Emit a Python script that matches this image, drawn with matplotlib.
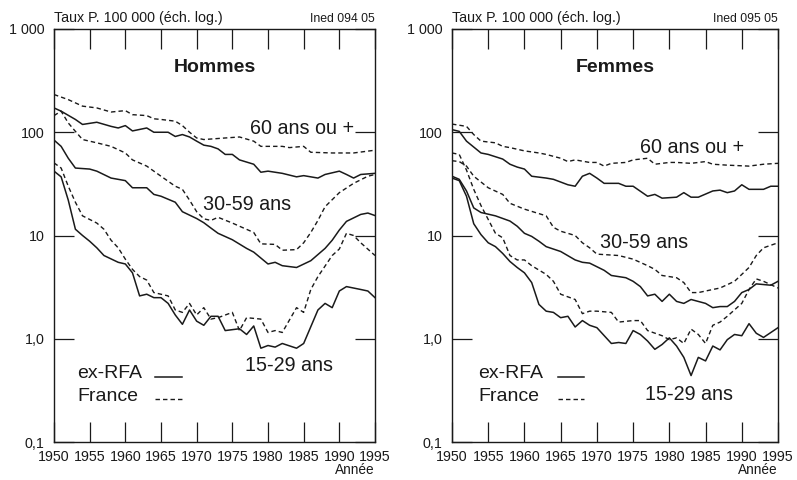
import matplotlib
matplotlib.use("Agg")
import matplotlib.pyplot as plt
from matplotlib.ticker import FixedLocator, NullLocator

plt.rcParams['font.family'] = ['Liberation Sans', 'DejaVu Sans']

# ---- Hommes ----
h60_fr_years = [1950, 1952, 1954, 1956, 1958, 1960, 1961, 1963, 1964, 1965, 1967, 1968, 1969, 1970,
                1971, 1974, 1976, 1978, 1979, 1982, 1983, 1985, 1986, 1989, 1992, 1995]
h60_fr = [232, 207, 179, 172, 157, 162, 148, 145, 135, 133, 128, 116, 100, 88,
          85, 88, 90, 82, 73, 73, 71, 73, 64, 63, 63, 67]

h60_de_years = [1950, 1951, 1953, 1954, 1956, 1958, 1959, 1960, 1961, 1963, 1964, 1966, 1967, 1968,
                1969, 1970, 1971, 1972, 1973, 1974, 1975, 1976, 1978, 1979, 1980, 1982, 1984, 1985,
                1987, 1988, 1990, 1991, 1992, 1993, 1995]
h60_de = [172, 160, 133, 119, 125, 114, 110, 116, 103, 110, 100, 100, 91, 95,
          90, 82, 75, 73, 69, 61, 61, 54, 49, 41, 42, 40, 37, 38,
          36, 39, 42, 39, 36, 39, 40]

h30_fr_years = [1950, 1951, 1952, 1953, 1954, 1956, 1958, 1960, 1961, 1963, 1965, 1967, 1968, 1969,
                1970, 1971, 1972, 1973, 1975, 1976, 1978, 1979, 1981, 1982, 1984, 1985, 1986, 1987,
                1988, 1990, 1992, 1994, 1995]
h30_fr = [145, 160, 123, 102, 85, 79, 73, 63, 54, 47, 37.5, 30, 28, 22,
          17, 14.5, 14, 15, 13.2, 12.3, 10.7, 8.3, 8.2, 7.2, 7.3, 8.5, 10.7, 14,
          19, 26, 32, 37.5, 39]

h30_de_years = [1950, 1951, 1952, 1953, 1955, 1956, 1958, 1960, 1961, 1963, 1964, 1965, 1967, 1968,
                1970, 1971, 1972, 1973, 1975, 1977, 1978, 1980, 1981, 1982, 1984, 1986, 1988, 1989,
                1990, 1991, 1993, 1994, 1995]
h30_de = [84, 73, 56, 45, 44, 42, 36, 34, 29, 29, 25, 24, 21, 17,
          14.6, 13.3, 11.8, 10.5, 9.1, 7.5, 6.9, 5.3, 5.5, 5.1, 4.9, 5.7, 7.5, 9,
          11.3, 13.7, 16, 16.5, 15.6]

h15_fr_years = [1950, 1951, 1952, 1953, 1954, 1956, 1957, 1958, 1959, 1960, 1961, 1962, 1963, 1964,
                1966, 1967, 1968, 1969, 1970, 1971, 1972, 1973, 1975, 1976, 1977, 1979, 1980, 1981,
                1982, 1984, 1985, 1986, 1987, 1989, 1990, 1991, 1992, 1993, 1995]
h15_fr = [50.5, 45, 30, 21, 15.5, 13.2, 11.5, 9.0, 7.6, 5.9, 4.7, 4.0, 3.7, 2.8,
          2.6, 1.9, 1.8, 2.2, 1.7, 2.0, 1.55, 1.6, 1.8, 1.2, 1.6, 1.55, 1.15, 1.2,
          1.15, 2.0, 1.8, 3.0, 4.0, 6.4, 7.4, 10.5, 10, 8.5, 6.4]

h15_de_years = [1950, 1951, 1952, 1953, 1954, 1955, 1956, 1957, 1959, 1960, 1961, 1962, 1963, 1964,
                1965, 1966, 1967, 1968, 1969, 1970, 1971, 1972, 1973, 1974, 1976, 1977, 1978, 1979,
                1980, 1981, 1982, 1984, 1985, 1987, 1988, 1989, 1990, 1991, 1993, 1994, 1995]
h15_de = [42, 37, 22, 11.5, 10, 8.8, 7.6, 6.4, 5.5, 5.3, 4.35, 2.6, 2.7, 2.5,
          2.5, 2.2, 1.7, 1.38, 1.9, 1.48, 1.35, 1.65, 1.65, 1.2, 1.25, 1.1, 1.33, 0.81,
          0.86, 0.83, 0.9, 0.81, 0.9, 1.9, 2.2, 2.0, 2.9, 3.2, 3.0, 2.9, 2.5]

# ---- Femmes ----
f60_fr_years = [1950, 1952, 1953, 1954, 1956, 1957, 1958, 1960, 1962, 1963, 1965, 1966, 1967, 1969,
                1970, 1971, 1972, 1974, 1975, 1977, 1978, 1980, 1981, 1983, 1985, 1986, 1988, 1991,
                1993, 1995]
f60_fr = [120, 114, 95, 82, 79, 73, 71, 66, 63, 61, 56, 52, 54, 51,
          51, 47, 50, 51, 54, 56, 49, 51, 51, 50, 52, 49, 48, 47,
          49, 50]

f60_de_years = [1950, 1951, 1952, 1954, 1955, 1957, 1958, 1959, 1960, 1961, 1963, 1964, 1966, 1967,
                1968, 1969, 1970, 1971, 1973, 1974, 1975, 1977, 1978, 1979, 1981, 1982, 1983, 1984,
                1986, 1987, 1988, 1989, 1990, 1991, 1993, 1994, 1995]
f60_de = [106, 102, 82, 63, 61, 55, 49, 46, 44, 37.5, 36, 35, 31, 30,
          37.5, 40, 36, 32, 32, 30, 30, 24, 25, 23, 23.5, 26, 23.5, 23.5,
          27, 27.5, 26, 27, 31, 28, 28, 30, 30]

f30_fr_years = [1950, 1951, 1952, 1953, 1955, 1957, 1958, 1960, 1963, 1964, 1965, 1967, 1968, 1969,
                1970, 1973, 1975, 1977, 1978, 1979, 1981, 1982, 1983, 1984, 1986, 1987, 1989, 1991,
                1992, 1993, 1995]
f30_fr = [53, 52, 47, 37.5, 29, 25, 20.5, 18, 15.5, 12, 11, 10, 8.5, 7.6,
          6.6, 6.4, 5.9, 5.1, 4.7, 4.1, 3.9, 3.5, 2.8, 2.8, 3.0, 3.1, 3.6, 4.9,
          6.4, 7.6, 8.5]

f30_de_years = [1950, 1951, 1952, 1953, 1954, 1956, 1958, 1959, 1960, 1961, 1962, 1963, 1965, 1967,
                1968, 1969, 1971, 1972, 1974, 1975, 1976, 1977, 1978, 1979, 1980, 1981, 1982, 1983,
                1985, 1986, 1987, 1988, 1989, 1990, 1991, 1992, 1994, 1995]
f30_de = [37.5, 35, 27, 18.5, 16.7, 15.5, 13.8, 12.3, 10.5, 9.8, 8.8, 7.8, 7.0, 5.8,
          5.5, 5.4, 4.6, 4.1, 3.9, 3.6, 3.2, 2.6, 2.7, 2.3, 2.7, 2.3, 2.2, 2.4,
          2.2, 2.0, 2.05, 2.05, 2.3, 2.8, 3.0, 3.4, 3.3, 3.6]

f15_fr_years = [1950, 1951, 1952, 1953, 1954, 1955, 1956, 1957, 1958, 1959, 1960, 1961, 1963, 1964,
                1965, 1967, 1968, 1969, 1970, 1972, 1973, 1975, 1976, 1977, 1979, 1980, 1981, 1982,
                1983, 1984, 1985, 1986, 1987, 1988, 1990, 1991, 1992, 1993, 1995]
f15_fr = [63, 61, 43, 28, 19.5, 14.3, 10.5, 9.5, 6.4, 5.8, 5.8, 5.1, 4.2, 3.6,
          2.7, 2.4, 1.75, 1.85, 1.85, 1.8, 1.45, 1.5, 1.5, 1.2, 1.07, 0.98, 1.02, 0.9,
          1.24, 1.1, 0.9, 1.35, 1.45, 1.65, 2.2, 3.0, 3.8, 3.6, 3.1]

f15_de_years = [1950, 1951, 1952, 1953, 1954, 1955, 1956, 1957, 1958, 1959, 1960, 1961, 1962, 1963,
                1964, 1965, 1966, 1967, 1968, 1969, 1970, 1972, 1973, 1974, 1975, 1976, 1977, 1978,
                1979, 1980, 1981, 1982, 1983, 1984, 1985, 1986, 1987, 1988, 1989, 1990, 1991, 1992,
                1993, 1995]
f15_de = [36, 34, 24, 13, 10.2, 8.5, 7.8, 6.7, 5.6, 4.9, 4.35, 3.5, 2.15, 1.85,
          1.8, 1.6, 1.65, 1.3, 1.5, 1.35, 1.28, 0.9, 0.92, 0.9, 1.2, 1.1, 0.95, 0.79,
          0.88, 1.02, 0.85, 0.66, 0.44, 0.66, 0.61, 0.85, 0.78, 0.98, 1.1, 1.07, 1.4, 1.13,
          1.03, 1.28]

year_ticks = [1950, 1955, 1960, 1965, 1970, 1975, 1980, 1985, 1990, 1995]
value_ticks = [0.1, 1, 10, 100, 1000]
value_labels = ['0,1', '1,0', '10', '100', '1 000']

INK = '#1a1a1a'
DASH = (3.2, 2.2)


def draw_panel(ax, title, code, series, labels):
    for yrs, vals, dashed in series:
        if dashed:
            ax.plot(yrs, vals, color=INK, lw=1.0, dashes=DASH)
        else:
            ax.plot(yrs, vals, color=INK, lw=1.1)
    ax.set_yscale('log')
    ax.set_xlim(1950, 1995)
    ax.set_ylim(0.1, 1000)
    ax.set_xticks(year_ticks)
    ax.set_xticklabels([str(y) for y in year_ticks])
    ax.yaxis.set_major_locator(FixedLocator(value_ticks))
    ax.yaxis.set_minor_locator(NullLocator())
    ax.set_yticklabels(value_labels)
    ax.tick_params(direction='in', length=14.5, width=0.9, top=True, right=True,
                   labelsize=10.3, colors=INK, pad=7)
    ax.tick_params(axis='x', pad=6)
    for s in ax.spines.values():
        s.set_linewidth(1.0)
        s.set_color(INK)

    ax.text(0, 1.027, 'Taux P. 100 000 (éch. log.)', transform=ax.transAxes,
            ha='left', va='center', fontsize=10.3, color=INK)
    ax.text(1, 1.025, code, transform=ax.transAxes, ha='right', va='center',
            fontsize=8.8, color=INK)
    ax.text(1, -0.068, 'Année', transform=ax.transAxes, ha='right', va='center',
            fontsize=9.8, color=INK)
    ax.text(0.5, 0.906, title, transform=ax.transAxes, ha='center', va='center',
            fontsize=14, fontweight='bold', color=INK)
    for txt, x, y in labels:
        ax.text(x, y, txt, transform=ax.transAxes, ha='left', va='center',
                fontsize=14.2, color=INK)


fig = plt.figure(figsize=(7.97, 4.8), dpi=100)
ax1 = fig.add_axes([54 / 797, 38 / 480, 321 / 797, 413 / 480])
ax2 = fig.add_axes([452 / 797, 38 / 480, 326 / 797, 413 / 480])

draw_panel(ax1, 'Hommes', 'Ined 094 05',
           [(h60_fr_years, h60_fr, True), (h60_de_years, h60_de, False),
            (h30_fr_years, h30_fr, True), (h30_de_years, h30_de, False),
            (h15_fr_years, h15_fr, True), (h15_de_years, h15_de, False)],
           [('60 ans ou +', 0.611, 0.760), ('30-59 ans', 0.464, 0.574),
            ('15-29 ans', 0.595, 0.186)])
draw_panel(ax2, 'Femmes', 'Ined 095 05',
           [(f60_fr_years, f60_fr, True), (f60_de_years, f60_de, False),
            (f30_fr_years, f30_fr, True), (f30_de_years, f30_de, False),
            (f15_fr_years, f15_fr, True), (f15_de_years, f15_de, False)],
           [('60 ans ou +', 0.577, 0.714), ('30-59 ans', 0.454, 0.482),
            ('15-29 ans', 0.592, 0.116)])

# hand-drawn key in each panel
for ax, x0, x1, xt in [(ax1, 0.315, 0.399, 0.072), (ax2, 0.325, 0.405, 0.080)]:
    ax.text(xt, 0.167, 'ex-RFA', transform=ax.transAxes, ha='left', va='center',
            fontsize=14, color=INK)
    ax.text(xt, 0.111, 'France', transform=ax.transAxes, ha='left', va='center',
            fontsize=14, color=INK)
    ax.plot([x0, x1], [0.157, 0.157], transform=ax.transAxes, color=INK, lw=1.1)
    ax.plot([x0, x1], [0.104, 0.104], transform=ax.transAxes, color=INK, lw=1.0,
            dashes=DASH)

fig.savefig('out.png', dpi=100)
